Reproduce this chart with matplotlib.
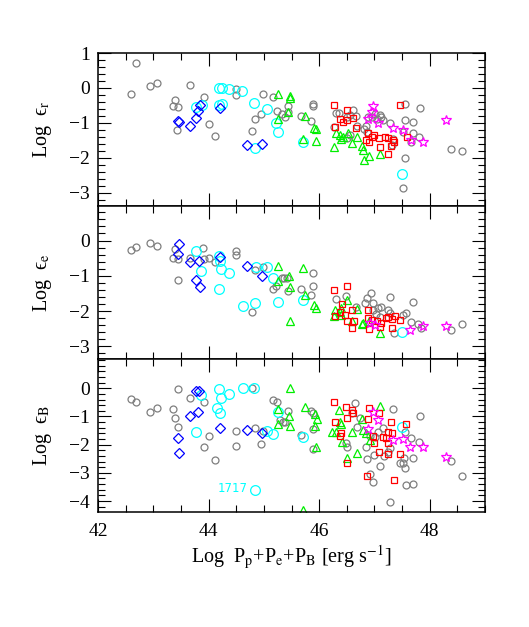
import matplotlib
matplotlib.use("Agg")
import matplotlib.pyplot as plt
from matplotlib.ticker import MultipleLocator, FixedLocator

plt.rcParams['font.family'] = ['Liberation Serif', 'DejaVu Serif']
plt.rcParams['mathtext.fontset'] = 'stix'

# ---------------- data: (Log P, Log eps) per panel and class ----------------
R_GREY = [(42.60,-0.18),(42.69,0.70),(42.94,0.06),(43.06,0.13),(43.66,0.08),(43.39,-0.35),(43.36,-0.51),
          (43.45,-0.54),(43.43,-1.21),(43.92,-0.27),(44.01,-1.04),(44.12,-1.38),(44.50,-0.02),(44.50,-0.21),
          (44.99,-0.18),(44.84,-0.88),(44.94,-0.75),(44.78,-1.23),(45.16,-0.27),(45.23,-0.66),(45.32,-0.75),
          (45.38,-0.83),(45.44,-0.51),(45.44,-0.69),(45.68,-0.81),(45.86,-0.95),(45.89,-0.45),(45.89,-0.52),
          (46.31,-0.71),(46.36,-0.71),(46.50,-0.83),(46.55,-0.78),(46.62,-0.64),(46.67,-0.81),(46.68,-1.09),
          (46.85,-1.09),(46.89,-0.83),(46.95,-0.83),(47.04,-0.88),(47.11,-0.83),(47.16,-0.92),(47.29,-0.99),
          (47.55,-0.47),(47.55,-0.92),(47.70,-0.97),(47.55,-2.02),(47.52,-2.87),(47.83,-0.57),(47.70,-1.30),
          (47.67,-1.54),(47.81,-1.40),(48.38,-1.76),(48.59,-1.81),(47.31,-1.64),(47.34,-1.47),(47.52,-1.26),
          (46.81,-1.19),(46.86,-1.26),(46.51,-1.43),(46.56,-1.35),(47.01,-0.75),(47.10,-0.78),(46.26,-1.11)]
R_CYAN = [(44.18,0.0),(44.24,0.0),(44.37,-0.02),(44.61,-0.08),(43.78,-0.56),(43.89,-0.49),(44.18,-0.48),
          (44.24,-0.45),(44.83,-0.42),(45.05,-0.61),(44.84,-1.71),(45.22,-1.00),(45.26,-1.26),(45.71,-1.54),
          (47.49,-2.45)]
R_BLUE = [(43.44,-0.94),(43.46,-0.97),(43.66,-1.08),(43.78,-0.86),(43.81,-0.66),(43.84,-0.49),(44.20,-0.57),
          (44.69,-1.62),(44.96,-1.61)]
R_GREEN = [(45.26,-0.17),(45.25,-0.88),(45.47,-0.24),(45.47,-0.30),(45.44,-0.70),(45.74,-0.80),(45.91,-1.14),
           (45.95,-1.19),(45.71,-1.45),(45.94,-1.52),(46.26,-1.69),(46.30,-1.29),(46.37,-1.35),(46.40,-1.47),
           (46.43,-1.40),(46.53,-1.29),(46.60,-1.57),(46.69,-1.40),(46.77,-1.67),(46.80,-1.78),(46.81,-2.07),
           (46.91,-1.95),(47.10,-1.88)]
R_RED = [(46.27,-0.48),(46.51,-0.64),(46.38,-0.90),(46.43,-0.97),(46.51,-0.92),(46.62,-0.85),(46.29,-1.13),
         (46.67,-1.16),(46.89,-1.29),(46.95,-1.40),(46.99,-1.35),(47.09,-1.42),(47.19,-1.40),(47.25,-1.43),
         (47.33,-1.49),(47.36,-1.54),(46.85,-1.49),(46.91,-1.54),(47.10,-1.69),(47.25,-1.88),(47.30,-1.67),
         (47.47,-0.48),(47.59,-1.40)]
R_MAGENTA = [(46.98,-0.52),(46.95,-0.69),(46.89,-0.89),(47.07,-1.00),(47.34,-1.16),(47.51,-1.21),(47.66,-1.49),
             (47.87,-1.54),(48.30,-0.92)]

E_GREY = [(42.60,-0.26),(42.69,-0.19),(42.94,-0.07),(43.06,-0.15),(43.39,-0.24),(43.36,-0.50),(43.44,-0.53),
          (43.44,-1.13),(43.67,-0.50),(43.90,-0.22),(43.92,-0.53),(44.01,-0.50),(44.12,-0.62),(44.50,-0.31),
          (44.50,-0.40),(44.78,-2.04),(44.84,-0.83),(44.99,-0.75),(45.16,-1.38),(45.22,-1.30),(45.32,-1.07),
          (45.36,-1.07),(45.41,-1.07),(45.44,-1.44),(45.68,-1.38),(45.86,-1.54),(45.89,-0.91),(45.89,-1.28),
          (46.30,-1.65),(46.48,-1.56),(46.67,-1.89),(46.83,-1.77),(46.86,-1.63),(46.94,-1.49),(46.98,-1.76),
          (47.07,-1.92),(47.11,-1.89),(47.25,-1.96),(47.29,-1.60),(47.28,-2.06),(47.52,-2.10),(47.57,-2.06),
          (47.70,-1.73),(47.67,-2.32),(47.79,-2.36),(47.84,-2.48),(47.35,-2.62),(48.38,-2.53),(48.59,-2.37),
          (46.98,-1.96),(47.03,-2.08),(47.10,-2.17)]
E_CYAN = [(43.77,-0.31),(43.87,-0.85),(44.19,-0.43),(44.21,-0.58),(44.22,-0.81),(44.37,-0.91),(44.19,-1.38),
          (44.62,-1.85),(44.84,-1.76),(44.85,-0.74),(45.05,-0.76),(45.17,-1.05),(45.26,-1.73),(45.71,-1.68),
          (47.49,-2.58)]
E_BLUE = [(43.46,-0.10),(43.45,-0.38),(43.66,-0.62),(43.82,-0.57),(44.21,-0.47),(43.78,-1.11),(43.84,-1.32),
          (44.69,-0.71),(44.96,-1.00)]
E_GREEN = [(45.25,-0.71),(45.26,-1.14),(45.46,-1.00),(45.47,-1.32),(45.47,-2.27),(45.71,-0.78),(45.74,-1.54),
           (45.91,-1.82),(45.95,-1.92),(46.29,-1.96),(46.26,-2.13),(46.38,-2.04),(46.40,-1.92),(46.40,-2.10),
           (46.51,-1.68),(46.68,-1.94),(46.77,-2.36),(46.80,-2.34),(46.91,-2.27),(47.10,-2.62),(46.60,-2.27)]
E_RED = [(46.27,-1.40),(46.51,-1.30),(46.42,-1.79),(46.38,-2.04),(46.47,-2.10),(46.60,-1.96),(46.29,-2.13),
         (46.50,-2.29),(46.60,-2.48),(46.63,-2.29),(46.88,-1.96),(46.89,-2.20),(46.95,-2.25),(47.04,-2.29),
         (47.11,-2.34),(47.21,-2.20),(47.25,-2.17),(47.31,-2.23),(47.37,-2.15),(47.47,-2.25),(46.91,-2.51),
         (47.10,-2.44),(47.31,-2.48)]
E_MAGENTA = [(46.92,-2.34),(47.01,-2.39),(47.64,-2.55),(47.87,-2.42),(48.30,-2.42)]

B_GREY = [(42.60,-0.39),(42.69,-0.50),(42.94,-0.85),(43.06,-0.69),(43.44,-0.03),(43.36,-0.75),(43.39,-1.04),
          (43.44,-1.38),(43.66,-0.36),(43.92,-0.47),(43.91,-2.07),(44.01,-1.68),(44.12,-2.54),(44.50,-1.51),
          (44.50,-2.03),(44.79,0.00),(44.84,-1.42),(44.95,-1.97),(44.99,-1.51),(45.16,-0.41),(45.23,-0.47),
          (45.30,-1.12),(45.34,-1.18),(45.38,-1.18),(45.44,-0.80),(45.68,-1.66),(45.86,-0.79),(45.89,-0.89),
          (45.89,-1.44),(45.89,-2.16),(46.48,-1.95),(46.50,-2.07),(46.65,-0.51),(46.60,-0.89),(46.74,-1.06),
          (46.68,-1.36),(46.85,-2.07),(46.87,-2.52),(46.92,-3.04),(46.98,-3.31),(46.99,-2.37),(47.10,-2.76),
          (47.17,-2.40),(47.25,-2.25),(47.28,-2.13),(47.29,-4.02),(47.34,-0.74),(47.46,-2.66),(47.52,-2.66),
          (47.55,-2.84),(47.53,-2.48),(47.58,-3.43),(47.70,-3.39),(47.70,-2.46),(47.83,-0.97),(47.67,-1.77),
          (47.81,-1.89),(47.01,-1.74),(47.07,-1.54),(47.16,-1.42),(46.92,-1.69),(48.38,-2.58),(48.59,-3.13),
          (47.55,-1.54)]
B_CYAN = [(44.18,-0.03),(44.22,-0.36),(44.37,-0.21),(44.16,-0.71),(44.21,-0.86),(44.63,0.02),(44.83,0.00),
          (43.87,-0.24),(43.77,-1.54),(44.84,-3.61),(45.05,-1.51),(45.17,-1.62),(45.25,-0.83),(45.71,-1.74),
          (47.49,-1.36)]
B_BLUE = [(43.77,-0.08),(43.83,-0.08),(43.81,-0.85),(43.66,-0.97),(43.44,-1.75),(43.46,-2.31),(44.21,-1.42),
          (44.69,-1.48),(44.96,-1.60)]
B_GREEN = [(45.47,0.02),(45.26,-0.75),(45.46,-0.98),(45.47,-1.34),(45.26,-1.27),(45.74,-0.65),(45.92,-0.91),
           (45.96,-1.09),(45.92,-1.34),(45.94,-2.09),(45.70,-4.32),(46.24,-1.54),(46.30,-1.54),(46.37,-1.18),
           (46.40,-1.27),(46.36,-0.77),(46.42,-1.89),(46.51,-2.48),(46.60,-1.54),(46.69,-2.28),(46.77,-1.09),
           (46.80,-1.48),(46.85,-1.57),(46.92,-1.83),(47.10,-0.63)]
B_RED = [(46.27,-0.47),(46.48,-0.65),(46.60,-0.77),(46.62,-0.86),(46.51,-1.06),(46.29,-1.18),(46.38,-1.69),
         (46.40,-1.60),(46.51,-2.66),(46.88,-1.10),(46.91,-0.71),(47.09,-0.86),(46.98,-1.69),(46.99,-1.95),
         (47.16,-1.74),(47.21,-1.77),(47.24,-1.54),(47.25,-1.95),(47.30,-1.21),(47.25,-2.34),(47.09,-2.25),
         (47.31,-1.60),(46.87,-3.11),(47.36,-3.25),(47.46,-2.33),(47.58,-1.27)]
B_MAGENTA = [(46.98,-0.83),(47.07,-1.12),(46.89,-1.44),(47.34,-1.83),(47.51,-1.81),(47.65,-2.09),(47.87,-2.07),
             (48.30,-2.43)]

PANEL_LABELS = ['Log  \u03f5$_{\\rm r}$', 'Log  \u03f5$_{\\rm e}$', 'Log  \u03f5$_{\\rm B}$']
XLABEL = r'Log  P$_{\rm p}$+P$_{\rm e}$+P$_{\rm B}$ [erg s$^{-1}$]'
ANNOT_TEXT = '1717'
ANNOT_POS = (44.70, -3.55)

# ---------------- styles ----------------
STYLES = {
    'grey':    dict(marker='o', color='#7f7f7f', ms=5.0),
    'cyan':    dict(marker='o', color='#00ffff', ms=7.0),
    'blue':    dict(marker='D', color='#0000ff', ms=5.0),
    'green':   dict(marker='^', color='#00ee00', ms=5.5),
    'red':     dict(marker='s', color='#ff0000', ms=5.0),
    'magenta': dict(marker='*', color='#ff00ff', ms=7.5),
}

panels = [
    dict(data={'grey': R_GREY, 'cyan': R_CYAN, 'blue': R_BLUE, 'green': R_GREEN, 'red': R_RED, 'magenta': R_MAGENTA},
         ylim=(-3.38, 1.0), yticks=[-3, -2, -1, 0, 1]),
    dict(data={'grey': E_GREY, 'cyan': E_CYAN, 'blue': E_BLUE, 'green': E_GREEN, 'red': E_RED, 'magenta': E_MAGENTA},
         ylim=(-3.36, 0.98), yticks=[-3, -2, -1, 0]),
    dict(data={'grey': B_GREY, 'cyan': B_CYAN, 'blue': B_BLUE, 'green': B_GREEN, 'red': B_RED, 'magenta': B_MAGENTA},
         ylim=(-4.39, 1.04), yticks=[-4, -3, -2, -1, 0]),
]

W, H = 529, 627
fig = plt.figure(figsize=(W / 100, H / 100), dpi=100)
left, right = 98 / W, 485 / W
tops = [53, 206, 359]
ph = 153

axes = []
for i, p in enumerate(panels):
    ax = fig.add_axes([left, 1 - (tops[i] + ph) / H, right - left, ph / H])
    axes.append(ax)
    for key in ['grey', 'cyan', 'blue', 'green', 'red', 'magenta']:
        pts = p['data'][key]
        st = STYLES[key]
        xs = [q[0] for q in pts]
        ys = [q[1] for q in pts]
        ax.plot(xs, ys, ls='none', marker=st['marker'], ms=st['ms'], mfc='none',
                mec=st['color'], mew=0.9, clip_on=True)
    ax.set_xlim(42, 49)
    ax.set_ylim(*p['ylim'])
    ax.xaxis.set_major_locator(MultipleLocator(2))
    ax.xaxis.set_minor_locator(MultipleLocator(0.5))
    ax.yaxis.set_major_locator(FixedLocator(p['yticks']))
    ax.yaxis.set_minor_locator(MultipleLocator(0.2))
    ax.tick_params(which='both', direction='in', top=True, right=True, width=0.8, colors='black')
    ax.tick_params(which='major', length=9.5)
    ax.tick_params(which='minor', length=5)
    ax.tick_params(axis='y', labelsize=14, pad=6)
    ax.tick_params(axis='x', labelsize=14, pad=8)
    for s in ax.spines.values():
        s.set_linewidth(1.1)
    if i < 2:
        ax.tick_params(axis='x', labelbottom=False)
    fig.text(43 / W, 1 - (tops[i] + ph / 2) / H, PANEL_LABELS[i], rotation=90,
             ha='center', va='center', fontsize=14.5)

axes[2].text(ANNOT_POS[0], ANNOT_POS[1], ANNOT_TEXT, color='#00ffff', fontsize=8.5,
             family='DejaVu Sans', ha='right', va='center')

fig.text(291 / W, 1 - 557 / H, XLABEL, ha='center', va='center', fontsize=14.5)

fig.savefig('out.png', dpi=100)
